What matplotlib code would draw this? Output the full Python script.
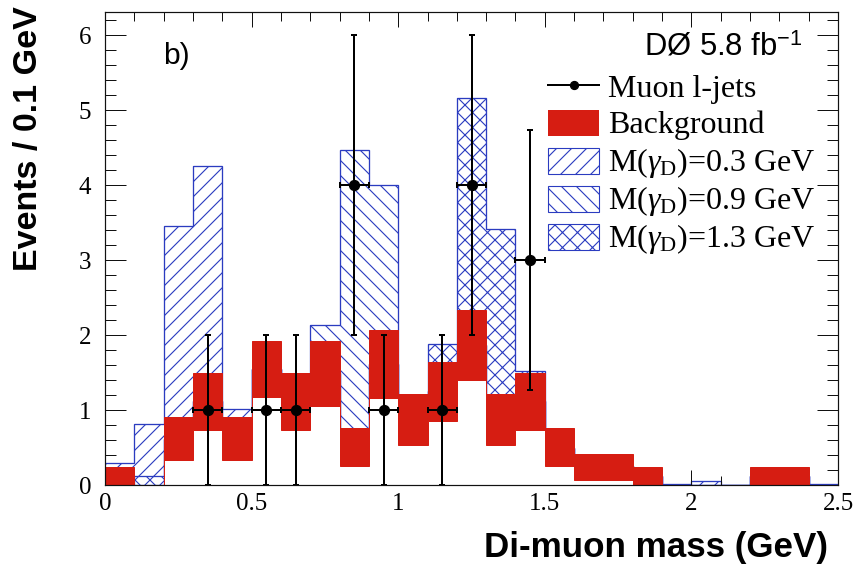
import numpy as np
import matplotlib
matplotlib.use("Agg")
import matplotlib.pyplot as plt
from matplotlib.patches import Rectangle
from matplotlib.lines import Line2D

# ---------------- data ----------------
bin_edges = [0.0, 0.1, 0.2, 0.3, 0.4, 0.5, 0.6, 0.7, 0.8, 0.9, 1.0, 1.1, 1.2,
             1.3, 1.4, 1.5, 1.6, 1.7, 1.8, 1.9, 2.0, 2.1, 2.2, 2.3, 2.4, 2.5]

# background band (lower / upper edge of the uncertainty band)
bkg_low = [0.00, 0.00, 0.34, 0.74, 0.34, 1.18, 0.74, 1.06, 0.25, 1.16, 0.53, 0.85, 1.40,
           0.53, 0.74, 0.25, 0.07, 0.07, 0.00, 0.00, 0.00, 0.00, 0.00, 0.00, 0.00]
bkg_high = [0.24, 0.00, 0.91, 1.49, 0.91, 1.92, 1.49, 1.92, 0.76, 2.07, 1.21, 1.64, 2.34,
            1.21, 1.50, 0.76, 0.42, 0.42, 0.24, 0.00, 0.00, 0.00, 0.24, 0.24, 0.00]

# signal + background expectations
sig_03 = [0.29, 0.81, 3.46, 4.25, 1.01, 1.55, 1.12, 1.49, 0.50, 1.61, 0.87, 1.25, 1.87,
          0.87, 1.12, 0.50, 0.25, 0.25, 0.12, 0.00, 0.05, 0.00, 0.12, 0.12, 0.00]
sig_09 = [0.12, 0.00, 0.62, 1.12, 0.62, 1.55, 1.12, 2.13, 4.47, 4.00, 0.87, 1.25, 1.87,
          0.87, 1.12, 0.50, 0.25, 0.25, 0.12, 0.00, 0.00, 0.00, 0.12, 0.12, 0.00]
sig_13 = [0.12, 0.12, 0.62, 1.12, 0.62, 1.55, 1.12, 1.49, 0.50, 1.61, 0.87, 1.88, 5.16,
          3.42, 1.52, 0.50, 0.25, 0.25, 0.12, 0.02, 0.00, 0.00, 0.12, 0.12, 0.02]

# data (Muon l-jets)
data_x = [0.35, 0.55, 0.65, 0.85, 0.95, 1.15, 1.25, 1.45]
data_y = [1, 1, 1, 4, 1, 1, 4, 3]
data_xerr = [0.05, 0.05, 0.05, 0.05, 0.05, 0.05, 0.05, 0.05]
data_yerr = [1.0, 1.0, 1.0, 2.0, 1.0, 1.0, 2.0, 1.73]

x_ticks = [0, 0.5, 1, 1.5, 2, 2.5]
x_ticklabels = ["0", "0.5", "1", "1.5", "2", "2.5"]
y_ticks = [0, 1, 2, 3, 4, 5, 6]
y_ticklabels = ["0", "1", "2", "3", "4", "5", "6"]

legend_labels = ["Muon l-jets", "Background",
                 r"M($\gamma_{\mathrm{D}}$)=0.3 GeV",
                 r"M($\gamma_{\mathrm{D}}$)=0.9 GeV",
                 r"M($\gamma_{\mathrm{D}}$)=1.3 GeV"]

# ---------------- style ----------------
DPI = 90
P = 72.0 / DPI          # px -> pt
W, H = 860, 567
RED = "#d61d12"
BLUE = "#2b3cc0"
FRAME = "#111111"

plt.rcParams["mathtext.fontset"] = "custom"
plt.rcParams["mathtext.rm"] = "Liberation Serif"
plt.rcParams["mathtext.it"] = "Liberation Serif:italic"
plt.rcParams["mathtext.bf"] = "Liberation Serif:bold"
plt.rcParams["mathtext.sf"] = "Liberation Sans"
plt.rcParams["hatch.linewidth"] = 0.9

fig = plt.figure(figsize=(W / DPI, H / DPI), dpi=DPI)
ax = fig.add_axes([105 / W, 1 - 485 / H, 733 / W, 473 / H])

edges = np.array(bin_edges)

# signals (hatched, white underneath so later ones cover earlier ones)
for vals, hatch in [(sig_03, "//"), (sig_09, "\\\\"), (sig_13, "xx")]:
    ax.stairs(vals, edges, baseline=0, fill=True, facecolor="white",
              edgecolor=BLUE, hatch=hatch, linewidth=0, zorder=1)
    ax.stairs(vals, edges, baseline=None, color=BLUE, linewidth=1.3 * P, zorder=1.1)

# blank area under the background band, then the red band
ax.stairs(bkg_low, edges, baseline=0, fill=True, facecolor="white", linewidth=0, zorder=2)
ax.stairs(bkg_high, edges, baseline=bkg_low, fill=True, facecolor=RED,
          edgecolor=RED, linewidth=1.0 * P, zorder=2.1)

# data
ax.errorbar(data_x, data_y, xerr=data_xerr, yerr=data_yerr, fmt="o", color="black",
            markersize=10 * P, elinewidth=2 * P, capsize=3 * P, capthick=2 * P, zorder=5)

ax.set_xlim(0, 2.5)
ax.set_ylim(0, 6.31)
ax.set_xticks(x_ticks)
ax.set_xticklabels(x_ticklabels)
ax.set_yticks(y_ticks)
ax.set_yticklabels(y_ticklabels)
ax.set_xticks(np.arange(0, 2.51, 0.1), minor=True)
ax.set_yticks(np.arange(0, 6.31, 0.2), minor=True)

for lab in ax.get_xticklabels() + ax.get_yticklabels():
    lab.set_fontfamily("Liberation Serif")
    lab.set_fontsize(25 * P)
ax.tick_params(axis="both", which="both", direction="in", top=True, right=True,
               color=FRAME, width=1.0 * P)
ax.tick_params(axis="x", which="major", length=15 * P, pad=8 * P)
ax.tick_params(axis="x", which="minor", length=9 * P)
ax.tick_params(axis="y", which="major", length=21 * P, pad=14 * P)
ax.tick_params(axis="y", which="minor", length=11 * P)
for sp in ax.spines.values():
    sp.set_color(FRAME)
    sp.set_linewidth(1.2 * P)
    sp.set_zorder(10)

ax.set_xlabel("Di-muon mass (GeV)", fontfamily="Liberation Sans", fontweight="bold",
              fontsize=35 * P)
ax.xaxis.set_label_coords((828 - 105) / 733, (485 - 548) / 473)
ax.xaxis.label.set_horizontalalignment("right")
ax.xaxis.label.set_verticalalignment("center")
ax.set_ylabel("Events / 0.1 GeV", fontfamily="Liberation Sans", fontweight="bold",
              fontsize=34 * P)
ax.yaxis.set_label_coords((29 - 105) / 733, (485 - 139) / 473)
ax.yaxis.label.set_horizontalalignment("center")
ax.yaxis.label.set_verticalalignment("center")

# annotations
def fx(px):
    return px / W

def fy(py):
    return 1 - py / H

fig.text(fx(163), fy(42), "b)", fontfamily="Liberation Sans", fontsize=30 * P,
         ha="left", va="top")
fig.text(fx(803), fy(55), r"DØ 5.8 fb$^{\mathsf{-1}}$", fontfamily="Liberation Sans",
         fontsize=31 * P, ha="right", va="baseline")

# legend (manual layout to match the original)
baselines = [97, 133, 171, 209, 247]
box_x0, box_x1 = 548, 599
text_x = 608
leg_font = dict(family="Liberation Serif", size=32 * P)
for i, (lab, yb) in enumerate(zip(legend_labels, baselines)):
    yc = yb - 10
    if i == 0:
        yc = yb - 12
        fig.add_artist(Line2D([fx(box_x0), fx(box_x1)], [fy(yc), fy(yc)], color="black",
                              linewidth=2 * P, transform=fig.transFigure))
        fig.add_artist(Line2D([fx((box_x0 + box_x1) / 2)], [fy(yc)], color="black",
                              marker="o", markersize=8 * P, linestyle="none",
                              transform=fig.transFigure))
    elif i == 1:
        fig.add_artist(Rectangle((fx(box_x0), fy(yc + 13)), fx(box_x1 - box_x0), 26 / H,
                                 facecolor=RED, edgecolor="none", transform=fig.transFigure))
    else:
        hatch = ["//", "\\\\", "xx"][i - 2]
        fig.add_artist(Rectangle((fx(box_x0), fy(yc + 13)), fx(box_x1 - box_x0), 26 / H,
                                 facecolor="white", edgecolor=BLUE, hatch=hatch,
                                 linewidth=1.1 * P, transform=fig.transFigure))
    fig.text(fx(text_x), fy(yb), lab, ha="left", va="baseline", **leg_font)

fig.savefig("out.png", dpi=DPI)
